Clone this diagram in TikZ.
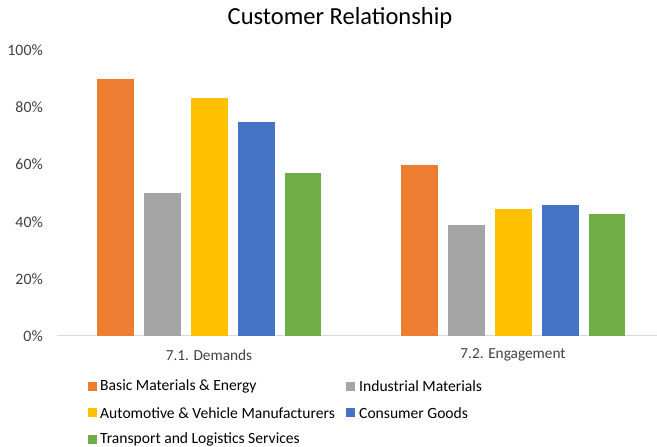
\documentclass[tikz,border=0pt]{standalone}
\usepackage{fontspec}
\setmainfont{Carlito}
\definecolor{cOrange}{HTML}{ED7D31}
\definecolor{cGray}{HTML}{A5A5A5}
\definecolor{cYellow}{HTML}{FFC000}
\definecolor{cBlue}{HTML}{4472C4}
\definecolor{cGreen}{HTML}{70AD47}
\definecolor{axisgray}{HTML}{D9D9D9}
\definecolor{labgray}{HTML}{404040}
\begin{document}
\begin{tikzpicture}[x=1pt,y=1pt,
  ticklab/.style={anchor=east,inner sep=0pt,text=labgray,font=\fontsize{15.8}{18}\selectfont},
  catlab/.style={inner sep=0pt,text=labgray,font=\fontsize{15.3}{18}\selectfont},
  leglab/.style={anchor=west,inner sep=0pt,text=black,font=\fontsize{15.6}{18}\selectfont},
  legsq/.style={minimum size=9pt,inner sep=0pt,draw=none}]
\useasboundingbox (0,0) rectangle (657,447);
% title
\node[inner sep=0pt,font=\fontsize{24.5}{28}\selectfont] (title) at (340,429) {Customer Relationship};
% y tick labels (0% at y=111, 100% at y=396.7)
\foreach \v/\t in {0/0\%,20/20\%,40/40\%,60/60\%,80/80\%,100/100\%}
  \node[ticklab] (tick\v) at (43,{111+2.857*\v}) {\t};
% axis line
\coordinate (axL) at (57,111.5);
\coordinate (axR) at (657,111.5);
\draw[axisgray,line width=0.8pt] (axL) -- (axR);
% bars group 1
\foreach \x/\v/\c in {97.3/90/cOrange,144.1/50/cGray,190.9/83.3/cYellow,237.7/75/cBlue,284.5/57.1/cGreen}
  \fill[\c] (\x,111) rectangle ++(36.8,{2.857*\v});
% bars group 2
\foreach \x/\v/\c in {401.3/60/cOrange,448.1/38.7/cGray,494.9/44.3/cYellow,541.7/45.8/cBlue,588.5/42.7/cGreen}
  \fill[\c] (\x,111) rectangle ++(36.8,{2.857*\v});
% category labels
\node[catlab] (cat1) at (209,92) {7.1. Demands};
\node[catlab] (cat2) at (513,92) {7.2. Engagement};
% legend
\node[legsq,fill=cOrange] (sq1) at (92,60.5) {};
\node[leglab] (lg1) at (100,60.5) {Basic Materials \& Energy};
\node[legsq,fill=cGray] (sq2) at (350,60.5) {};
\node[leglab] (lg2) at (359,60.5) {Industrial Materials};
\node[legsq,fill=cYellow] (sq3) at (92,34) {};
\node[leglab] (lg3) at (100,34) {Automotive \& Vehicle Manufacturers};
\node[legsq,fill=cBlue] (sq4) at (350,34) {};
\node[leglab] (lg4) at (359,34) {Consumer Goods};
\node[legsq,fill=cGreen] (sq5) at (92,7.5) {};
\node[leglab] (lg5) at (100,7.5) {Transport and Logistics Services};
\end{tikzpicture}
\end{document}
